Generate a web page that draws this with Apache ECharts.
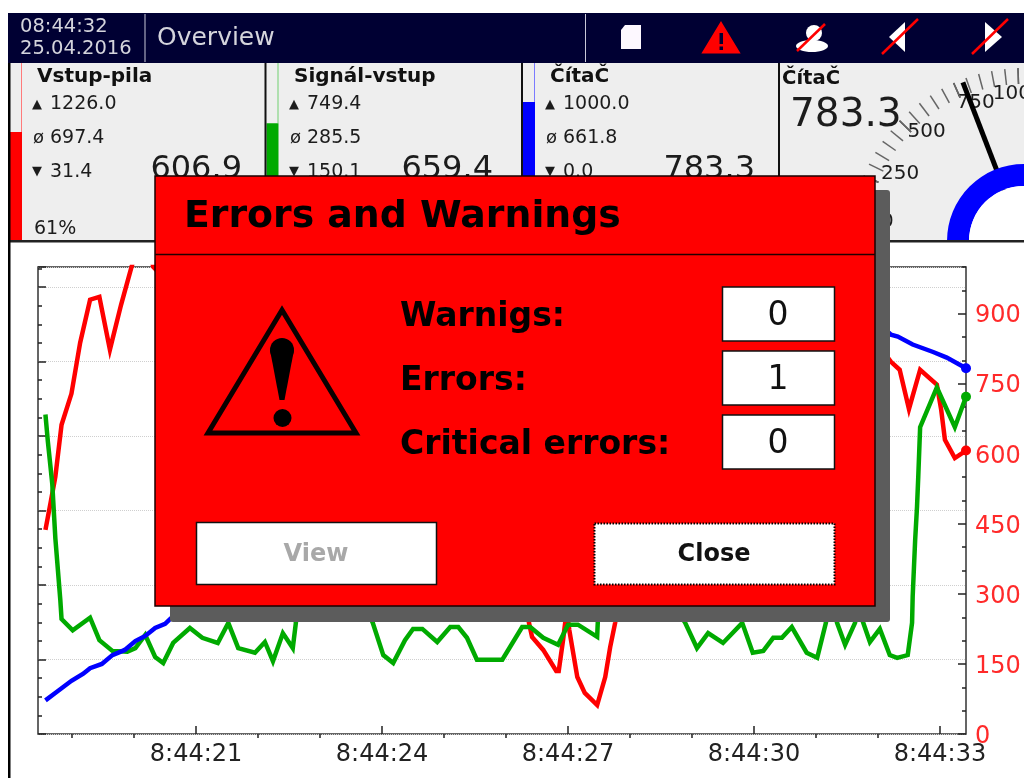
<!DOCTYPE html>
<html lang="en">

<head>
    <meta charset="UTF-8">
    <title>Overview</title>
    <script src="https://cdn.jsdelivr.net/npm/echarts@6/dist/echarts.min.js"></script>
    <style>
        html, body { margin: 0; padding: 0; background: #fff; overflow: hidden; }
        #main { width: 1024px; height: 778px; }
    </style>
</head>

<body>
    <div id="main"></div>
</body>

</html>
<script>
    // trend data, seconds after 8:44:00 and channel value
    // (the parts behind the dialog are only a guess)
    const redTimes = [18.57, 18.65, 18.73, 18.83, 18.99, 19.13, 19.29, 19.44, 19.61, 19.79, 19.95, 20.06, 20.23, 20.31, 20.6, 22, 23, 24, 25, 26, 26.37, 26.42, 26.6, 26.81, 26.85, 26.92, 26.98, 27.02, 27.15, 27.27, 27.47, 27.6, 27.68, 27.76, 28, 29, 30, 31, 31.8, 32.21, 32.35, 32.5, 32.68, 32.95, 33.02, 33.08, 33.24, 33.42];
    const redValues = [437, 493, 551, 662, 729, 838, 930, 936, 823, 919, 996, 1048, 1048, 1000, 960, 900, 760, 850, 700, 600, 238, 208, 180, 135, 135, 201, 266, 223, 122, 88, 62, 122, 186, 238, 520, 850, 700, 820, 870, 797, 780, 696, 780, 748, 694, 630, 591, 606.9];

    const greenTimes = [18.57, 18.61, 18.68, 18.73, 18.81, 18.83, 19.01, 19.29, 19.44, 19.65, 19.89, 20.02, 20.18, 20.34, 20.47, 20.63, 20.9, 21.1, 21.35, 21.52, 21.68, 21.95, 22.11, 22.24, 22.4, 22.56, 22.61, 22.65, 23.4, 23.85, 24.02, 24.18, 24.37, 24.5, 24.65, 24.89, 25.1, 25.23, 25.37, 25.53, 25.94, 26.26, 26.39, 26.6, 26.84, 27, 27.16, 27.47, 27.5, 28.5, 28.89, 29.08, 29.26, 29.5, 29.81, 29.98, 30.15, 30.31, 30.45, 30.61, 30.85, 31.02, 31.16, 31.24, 31.34, 31.47, 31.63, 31.68, 31.87, 32.03, 32.19, 32.31, 32.48, 32.55, 32.56, 32.6, 32.63, 32.65, 32.68, 32.95, 33.24, 33.42];
    const greenValues = [684, 625, 536, 419, 287, 246, 222, 249, 201, 178, 176, 184, 212, 165, 152, 195, 227, 206, 195, 238, 184, 174, 197, 156, 216, 184, 238, 300, 380, 238, 169, 152, 201, 225, 225, 197, 229, 229, 206, 159, 159, 229, 229, 206, 191, 234, 234, 208, 300, 320, 238, 184, 216, 195, 238, 174, 178, 206, 206, 229, 174, 163, 238, 300, 238, 191, 238, 270, 197, 225, 169, 163, 169, 238, 295, 416, 487, 551, 657, 742, 657, 722];

    const blueTimes = [18.57, 18.75, 18.99, 19.18, 19.29, 19.48, 19.65, 19.85, 20.02, 20.18, 20.34, 20.5, 20.58, 22, 24, 26, 26.8, 31, 32.21, 32.32, 32.56, 32.89, 33.11, 33.42];
    const blueValues = [72, 90, 114, 129, 141, 150, 169, 180, 199, 210, 227, 236, 246, 420, 670, 910, 1000, 1000, 855, 851, 834, 818, 806, 783.3];

    // axes
    const timeMin = 18.45;
    const timeMax = 33.42;
    const timeMajor = [21, 24, 27, 30, 33];
    const timeMinor = [19, 20, 22, 23, 25, 26, 28, 29, 31, 32];
    const timeLabels = ['8:44:21', '8:44:24', '8:44:27', '8:44:30', '8:44:33'];
    const rightTicks = [0, 150, 300, 450, 600, 750, 900];
    const leftScaleMax = 1254;

    // channel panels
    const channelNames = ['Vstup-pila', 'Signál-vstup', 'ČítaČ'];
    const channelMax = ['1226.0', '749.4', '1000.0'];
    const channelAvg = ['697.4', '285.5', '661.8'];
    const channelMin = ['31.4', '150.1', '0.0'];
    const channelNow = ['606.9', '659.4', '783.3'];
    const channelPercent = [61, 66, 78];
    const channelColors = ['#ff0000', '#00aa00', '#0000ff'];
    const channelEdge = ['#ff7a7a', '#70d070', '#7a7aff'];

    // gauge
    const gaugeName = 'ČítaČ';
    const gaugeValue = 783.3;

    // dialog
    const dialogTitle = 'Errors and Warnings';
    const dialogRows = ['Warnigs:', 'Errors:', 'Critical errors:'];
    const dialogCounts = ['0', '1', '0'];

    const FONT = '"DejaVu Sans"';
    const INK = '#1c1c1c';

    function txt(x, y, text, size, opts) {
        opts = opts || {};
        return {
            type: 'text',
            z: opts.z === undefined ? 1 : opts.z,
            style: {
                x: x, y: y, text: text,
                font: (opts.bold ? 'bold ' : '') + size + 'px ' + FONT,
                fill: opts.color || INK,
                align: opts.align || 'left',
                verticalAlign: 'middle'
            }
        };
    }

    function box(x, y, w, h, fill, z, stroke, lineWidth, dash, r) {
        return {
            type: 'rect', z: z,
            shape: { x: x, y: y, width: w, height: h, r: r || 0 },
            style: { fill: fill, stroke: stroke || null, lineWidth: lineWidth || 0, lineDash: dash || null }
        };
    }

    function poly(points, fill, z, stroke, lineWidth) {
        return {
            type: 'polygon', z: z,
            shape: { points: points },
            style: { fill: fill, stroke: stroke || null, lineWidth: lineWidth || 0, lineJoin: 'miter' }
        };
    }

    function seg(x1, y1, x2, y2, color, width, z) {
        return {
            type: 'line', z: z,
            shape: { x1: x1, y1: y1, x2: x2, y2: y2 },
            style: { stroke: color, lineWidth: width }
        };
    }

    function dot(cx, cy, r, fill, z) {
        return { type: 'circle', z: z, shape: { cx: cx, cy: cy, r: r }, style: { fill: fill } };
    }

    function buildHeader() {
        const z = 6;
        const els = [box(8, 13, 1016, 50, '#000033', z)];
        els.push(seg(145, 14, 145, 62, '#c8c8d8', 1, z));
        els.push(seg(585.5, 14, 585.5, 62, '#c8c8d8', 1, z));
        els.push(txt(20, 27, '08:44:32', 19.5, { color: '#d4d4dc', z: z }));
        els.push(txt(20, 49, '25.04.2016', 19.5, { color: '#d4d4dc', z: z }));
        els.push(txt(157, 38, 'Overview', 25, { color: '#d4d4dc', z: z }));
        // sd card
        els.push(poly([[625, 25], [641, 25], [641, 49], [621, 49], [621, 30]], '#fdf8ff', z));
        // warning sign
        els.push(poly([[721, 24], [738, 52], [704, 52]], '#ff0000', z, '#ff0000', 3));
        els.push(box(719.5, 33, 3.5, 11, '#000033', z));
        els.push(box(719.5, 46.5, 3.5, 3.5, '#000033', z));
        // user
        els.push(dot(814, 33, 8, '#ffffff', z));
        els.push({ type: 'ellipse', z: z, shape: { cx: 812, cy: 46, rx: 16, ry: 6 }, style: { fill: '#ffffff' } });
        els.push(seg(797, 51, 825, 24, '#ff0000', 2.5, z));
        // scroll arrows
        els.push(poly([[889, 37], [905, 22], [905, 52]], '#ffffff', z));
        els.push(seg(882, 54, 918, 19, '#ff0000', 2.5, z));
        els.push(poly([[985, 22], [1002, 37], [985, 52]], '#ffffff', z));
        els.push(seg(972, 54, 1008, 19, '#ff0000', 2.5, z));
        return els;
    }

    function buildPanels() {
        const els = [box(8, 63, 1016, 178, '#eeeeee', 0)];
        const barX = [10, 266.5, 523];
        const nameX = [37, 294, 550];
        const markX = [32, 289, 545];
        const valueX = [50, 307, 563];
        const bigX = [242, 493, 755];
        const top = 63, bottom = 240;
        channelNames.forEach(function (name, i) {
            const fillTop = bottom - (bottom - top) * channelPercent[i] / 100;
            els.push(box(barX[i], fillTop, 12, bottom - fillTop, channelColors[i], 1));
            els.push(seg(barX[i] + 11.5, top, barX[i] + 11.5, fillTop, channelEdge[i], 1, 1));
            els.push(txt(nameX[i], 77, name, 20, { bold: true, color: '#111' }));
            els.push(txt(markX[i], 105, '▲', 13));
            els.push(txt(valueX[i], 104, channelMax[i], 19));
            els.push(txt(markX[i] + 1, 138, 'ø', 18));
            els.push(txt(valueX[i], 138, channelAvg[i], 19));
            els.push(txt(markX[i], 172, '▼', 13));
            els.push(txt(valueX[i], 172, channelMin[i], 19));
            els.push(txt(bigX[i], 170, channelNow[i], 32, { align: 'right' }));
        });
        els.push(txt(34, 229, channelPercent[0] + '%', 19));
        // panel dividers and frame
        els.push(box(264.5, 63, 2, 178, '#111', 1));
        els.push(box(521, 63, 2, 178, '#111', 1));
        els.push(box(778, 63, 2, 178, '#111', 1));
        els.push(box(8, 240, 1016, 2.5, '#222', 6));
        els.push(box(8, 13, 2.5, 765, '#000', 6));
        // gauge title and value
        els.push(txt(782, 79, gaugeName, 19.6, { bold: true, color: '#111' }));
        els.push(txt(790, 116, String(gaugeValue), 39, { z: 6 }));
        return els;
    }

    function buildDialog() {
        const z = 200;
        const els = [];
        els.push(box(170, 190, 720, 432, '#5c5c5c', z, null, 0, null, 3));
        els.push(box(155, 176, 720, 430, '#ff0000', z, '#1a0000', 1.5));
        els.push(seg(155, 254.5, 875, 254.5, '#220000', 1.5, z));
        els.push(txt(184, 217, dialogTitle, 37.8, { bold: true, color: '#000', z: z }));
        // warning symbol
        els.push(poly([[282, 310], [356, 433], [208, 433]], 'transparent', z, '#0a0000', 5));
        els.push(dot(282, 350, 12, '#000', z));
        els.push(poly([[270, 350], [294, 350], [284.5, 400], [279.5, 400]], '#000', z));
        els.push(dot(282.5, 418, 9, '#000', z));
        // counters
        const rowY = [317, 381, 445];
        const boxY = [287, 351, 415];
        dialogRows.forEach(function (row, i) {
            els.push(txt(400, rowY[i], row, 33, { bold: true, color: '#000', z: z }));
            els.push(box(722.5, boxY[i], 112, 54, '#fff', z, '#111', 1.5));
            els.push(txt(778, boxY[i] + 29, dialogCounts[i], 33, { align: 'center', z: z, color: '#111' }));
        });
        // buttons
        els.push(box(196.5, 522.5, 240, 62, '#fff', z, '#111', 1.5));
        els.push(txt(316, 555, 'View', 24, { bold: true, align: 'center', color: '#a8a8a8', z: z }));
        els.push(box(594.5, 523.5, 240, 61, '#fff', z, '#000', 2, [1.5, 1.5]));
        els.push(txt(714, 555, 'Close', 24, { bold: true, align: 'center', color: '#111', z: z }));
        return els;
    }

    function pairs(times, values) {
        return times.map(function (t, i) { return [t, values[i]]; });
    }

    function trend(name, color, times, values) {
        const last = times.length - 1;
        return {
            name: name, type: 'line', xAxisIndex: 0, yAxisIndex: 0, z: 4,
            data: pairs(times, values),
            symbol: function (v, params) { return params.dataIndex === last ? 'circle' : 'none'; },
            symbolSize: 10,
            showAllSymbol: true,
            lineStyle: { color: color, width: 4.5, join: 'miter' },
            itemStyle: { color: color }
        };
    }

    function tickAxis(position, max, interval, len) {
        return {
            type: 'value', position: position, min: 0, max: max, interval: interval,
            axisLine: { show: false },
            axisLabel: { show: false },
            axisTick: { show: true, inside: true, length: len, lineStyle: { color: '#222', width: 1.5 } },
            splitLine: { show: false }
        };
    }

    // gauge scale labels sit a little off the spot ECharts picks for them
    function gaugeLabel(padding) {
        return { fontFamily: FONT, fontSize: 20, color: INK, padding: padding };
    }

    const axisTickStyle = { color: '#222', width: 1.5 };

    let myChart = echarts.init(document.getElementById('main'));
    let option = {
        animation: false,
        backgroundColor: '#ffffff',
        grid: { left: 38, top: 267, width: 928, height: 467, show: true, borderColor: '#333', borderWidth: 1.5, backgroundColor: 'transparent' },
        xAxis: [
            {
                type: 'value', min: timeMin, max: timeMax,
                axisLine: { show: false },
                axisTick: { show: true, inside: true, length: 8, customValues: timeMajor, lineStyle: axisTickStyle },
                axisLabel: {
                    show: true, customValues: timeMajor, margin: 9,
                    fontFamily: FONT, fontSize: 24, color: '#222',
                    formatter: function (v) { return timeLabels[timeMajor.indexOf(v)]; }
                },
                splitLine: { show: false }
            },
            {
                type: 'value', min: timeMin, max: timeMax,
                axisLine: { show: false },
                axisTick: { show: true, inside: true, length: 4, customValues: timeMinor, lineStyle: axisTickStyle },
                axisLabel: { show: false },
                splitLine: { show: false }
            }
        ],
        yAxis: [
            {
                type: 'value', position: 'right', min: 0, max: 1000,
                axisLine: { show: false },
                axisTick: { show: true, inside: true, length: 8, customValues: rightTicks, lineStyle: axisTickStyle },
                axisLabel: {
                    show: true, customValues: rightTicks, margin: 9,
                    formatter: function (v) { return '{a|' + v + '}'; },
                    rich: { a: { fontFamily: FONT, fontSize: 24, color: '#ff2a2a', padding: [5, 0, 0, 0] } }
                },
                splitLine: { show: false }
            },
            tickAxis('right', 1000, 50, 4),
            {
                type: 'value', position: 'left', min: 0, max: leftScaleMax, interval: 200,
                axisLine: { show: false },
                axisLabel: { show: false },
                axisTick: { show: true, inside: true, length: 8, lineStyle: axisTickStyle },
                splitLine: { show: true, lineStyle: { color: '#cfcfcf', type: 'dotted', width: 1 } }
            },
            tickAxis('left', leftScaleMax, 50, 4)
        ],
        series: [
            // scale of the overview gauge with its needle
            {
                type: 'gauge', center: [1024, 241], radius: 174, z: 2,
                startAngle: 180, endAngle: 92, min: 0, max: 1000, splitNumber: 4,
                axisLine: { show: false, lineStyle: { width: 1 } },
                axisTick: { show: true, splitNumber: 5, length: 16, distance: 0, lineStyle: { color: '#666', width: 1.5 } },
                splitLine: { show: true, length: 16, distance: 0, lineStyle: { color: '#666', width: 1.5 } },
                axisLabel: {
                    show: true, distance: -8,
                    formatter: function (v) { return '{l' + v + '|' + v + '}'; },
                    rich: {
                        l0: gaugeLabel([0, 0, 38, 23]),
                        l250: gaugeLabel([0, 0, 10, 11]),
                        l500: gaugeLabel([12, 0, 0, 3]),
                        l750: gaugeLabel([3, 30, 0, 0]),
                        l1000: gaugeLabel([9, 0, 0, 0])
                    }
                },
                pointer: { show: true, icon: 'rect', length: 170, width: 5, itemStyle: { color: '#000' } },
                anchor: { show: false },
                title: { show: false },
                detail: { show: false },
                data: [{ value: gaugeValue }]
            },
            // blue ring on top of the needle foot
            {
                type: 'gauge', center: [1024, 241], radius: 77, z: 3,
                startAngle: 180, endAngle: 90, min: 0, max: 1000,
                axisLine: { show: true, lineStyle: { width: 22, color: [[1, '#0000ff']] } },
                axisTick: { show: false },
                splitLine: { show: false },
                axisLabel: { show: false },
                pointer: { show: false },
                anchor: { show: true, showAbove: true, size: 110, itemStyle: { color: '#fff', borderWidth: 0 } },
                title: { show: false },
                detail: { show: false },
                data: [{ value: gaugeValue }]
            },
            trend(channelNames[0], channelColors[0], redTimes, redValues),
            trend(channelNames[1], channelColors[1], greenTimes, greenValues),
            trend(channelNames[2], channelColors[2], blueTimes, blueValues)
        ],
        graphic: {
            elements: buildPanels().concat(buildHeader(), buildDialog())
        }
    };
    myChart.setOption(option);
</script>
